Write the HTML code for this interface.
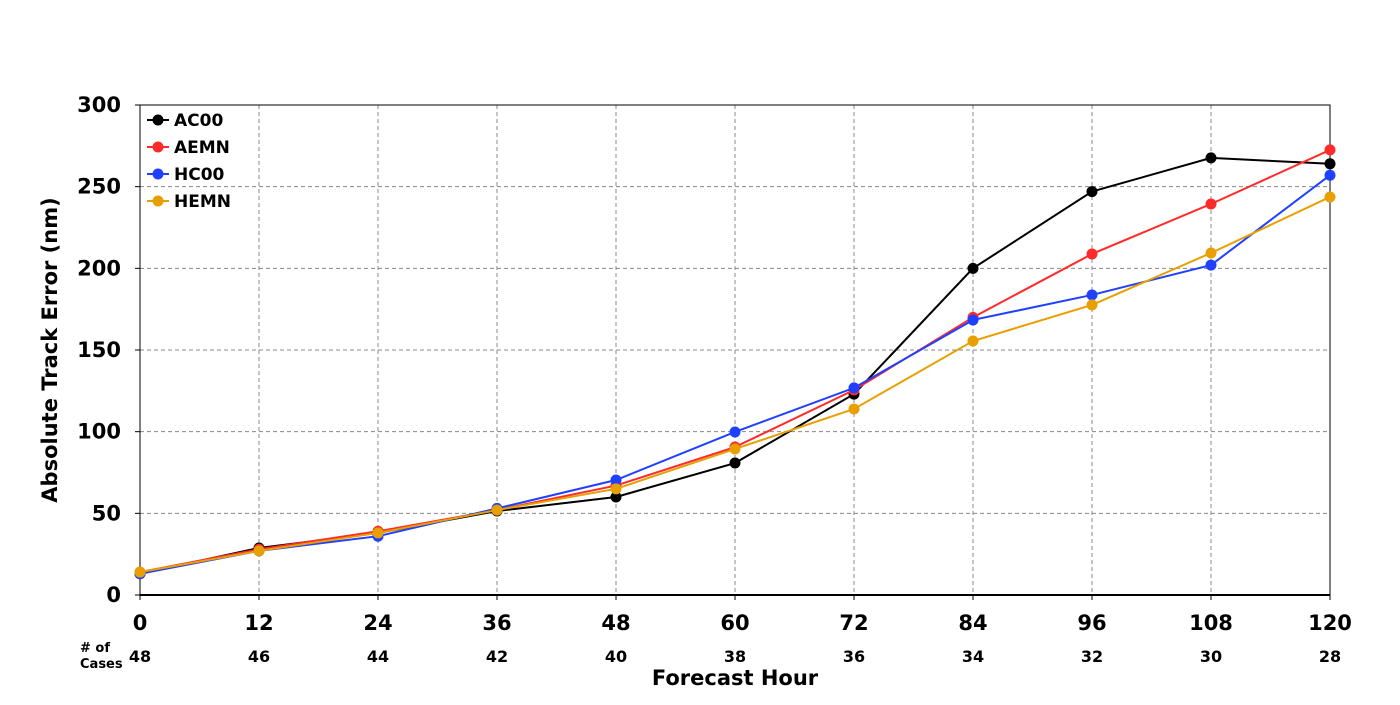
<!DOCTYPE html>
<html><head><meta charset="utf-8"><style>
body{margin:0;background:#fff;width:1400px;height:700px;overflow:hidden}
svg{font-family:"DejaVu Sans","Liberation Sans",sans-serif;font-weight:bold}
</style></head><body>
<svg id="chart" width="1400" height="700"></svg>
<script>
const hours=[0,12,24,36,48,60,72,84,96,108,120];
const cases=[48,46,44,42,40,38,36,34,32,30,28];
const yTicks=[0,50,100,150,200,250,300];
const seriesNames=["AC00","AEMN","HC00","HEMN"];
const seriesColors=["#000000","#ff2a2a","#2040ff","#e8a000"];
const ac00=[13,28.8,38,51.4,60,80.8,123,200,247,267.6,264];
const aemn=[14,28,39,52,67,90.6,125.5,170,208.8,239.4,272.5];
const hc00=[13,27,36,53,70.4,99.8,126.8,168.4,183.7,202,257];
const hemn=[14,27,38,52,65,89.4,113.9,155.5,177.6,209.4,243.7];
const seriesData=[ac00,aemn,hc00,hemn];

const NS="http://www.w3.org/2000/svg";
const svg=document.getElementById('chart');
const L=140,R=1330,T=105,B=595;
const xs=h=>L+(h-0)/120*(R-L);
const ys=v=>B-v/300*(B-T);
function mk(tag,attrs,parent){const e=document.createElementNS(NS,tag);for(const k in attrs)e.setAttribute(k,attrs[k]);(parent||svg).appendChild(e);return e;}

const grid=mk('g',{});


hours.forEach(h=>{if(h>0&&h<120)mk('line',{x1:xs(h),x2:xs(h),y1:T,y2:B,stroke:'#888','stroke-dasharray':'4,3','stroke-width':1},grid);});
yTicks.forEach(v=>{if(v>0&&v<300)mk('line',{x1:L,x2:R,y1:ys(v),y2:ys(v),stroke:'#888','stroke-dasharray':'4,3','stroke-width':1},grid);});
const frame=mk('rect',{x:L,y:T,width:R-L,height:B-T,fill:'none',stroke:'#000','stroke-width':1});


const xaxis=mk('line',{x1:L,x2:R,y1:B,y2:B,stroke:'#000','stroke-width':2});



yTicks.forEach(v=>{
  mk('line',{x1:L-5,x2:L,y1:ys(v),y2:ys(v),stroke:'#000'});
  const t=mk('text',{x:L-19,y:ys(v)+7,'text-anchor':'end','font-size':21});
  t.textContent=v;
  
  
});
hours.forEach((h,i)=>{
  mk('line',{x1:xs(h),x2:xs(h),y1:B,y2:B+5,stroke:'#000'});
  const t=mk('text',{x:xs(h),y:630,'text-anchor':'middle','font-size':21});
  t.textContent=h;
  
  
  const c=mk('text',{x:xs(h),y:662,'text-anchor':'middle','font-size':16});
  c.textContent=cases[i];
  
  
});
const nc1=mk('text',{x:80,y:652,'font-size':13});nc1.textContent='# of';


const nc2=mk('text',{x:80,y:668,'font-size':13});nc2.textContent='Cases';


const xt=mk('text',{x:735,y:685,'text-anchor':'middle','font-size':21});xt.textContent='Forecast Hour';


const yt=mk('text',{x:0,y:0,'text-anchor':'middle','font-size':21,transform:'translate(57,350) rotate(-90)'});yt.textContent='Absolute Track Error (nm)';



seriesData.forEach((d,si)=>{
  const g=mk('g',{});
  
  
  mk('polyline',{points:d.map((v,i)=>xs(hours[i])+','+ys(v)).join(' '),fill:'none',stroke:seriesColors[si],'stroke-width':2},g);
  d.forEach((v,i)=>{
    const c=mk('circle',{cx:xs(hours[i]),cy:ys(v),r:5.5,fill:seriesColors[si]},g);
    
    
  });
});

const leg=mk('g',{});


seriesNames.forEach((n,i)=>{
  const y=120+i*27;
  const e=mk('g',{},leg);
  
  
  mk('line',{x1:147,x2:169,y1:y,y2:y,stroke:seriesColors[i],'stroke-width':2},e);
  mk('circle',{cx:158,cy:y,r:5.5,fill:seriesColors[i]},e);
  const t=mk('text',{x:174,y:y+6,'font-size':17},e);t.textContent=n;
});
</script>
</body></html>
